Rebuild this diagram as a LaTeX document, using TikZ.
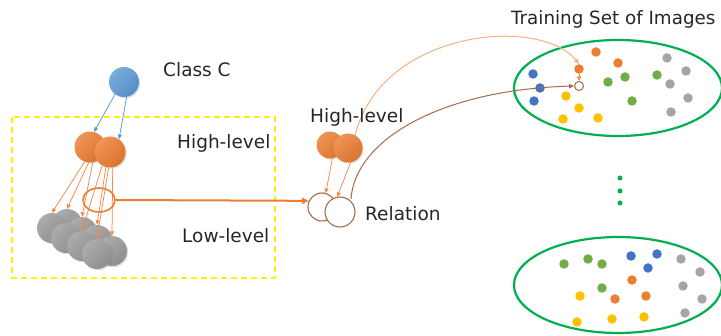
\documentclass[tikz,border=0pt]{standalone}
\usepackage{fontspec}
\setmainfont{DejaVu Sans}
\usetikzlibrary{arrows.meta,shapes.geometric,shadows}

\definecolor{blueC}{HTML}{5B9BD5}
\definecolor{orangeC}{HTML}{ED7D31}
\definecolor{grayC}{HTML}{A5A5A5}
\definecolor{ballGray}{HTML}{9A9A9A}
\definecolor{greenC}{HTML}{00B050}
\definecolor{dotBlue}{HTML}{4472C4}
\definecolor{dotYellow}{HTML}{FFC000}
\definecolor{dotGreen}{HTML}{70AD47}
\definecolor{arrowOrange}{HTML}{F28A48}
\definecolor{lightOrange}{HTML}{F4B183}
\definecolor{brownC}{HTML}{A36B4B}
\definecolor{textC}{HTML}{262626}
\definecolor{dashYellow}{HTML}{FFF200}

\begin{document}
\begin{tikzpicture}[x=1pt,y=-1pt,
  ball/.style={circle, inner sep=0pt, minimum size=#1,
    drop shadow={opacity=0.25, shadow xshift=1.2pt, shadow yshift=-1.2pt}},
  shade/.style={top color=#1!82!white, bottom color=#1!92!black, shading angle=45},
  blueball/.style={ball=30pt, shade=blueC},
  orangeball/.style={ball=#1, shade=orangeC},
  grayball/.style={ball=30pt, shade=ballGray},
  relball/.style={circle, inner sep=0pt, minimum size=#1, draw=brownC, line width=1.1pt, fill=white},
  tdot/.style={circle, inner sep=0pt, minimum size=9.5pt, fill=#1},
  vdot/.style={circle, inner sep=0pt, minimum size=5pt, fill=greenC},
  oarrow/.style={arrowOrange, line width=0.75pt, -{Triangle[length=4.5pt,width=4pt]}},
  barrow/.style={blueC, line width=0.8pt, -{Triangle[length=4.5pt,width=4pt]}},
  label/.style={text=textC, inner sep=0pt, anchor=base west, font=\fontsize{18.5}{20}\selectfont},
  setring/.style={draw=greenC, line width=2.2pt}
]
\useasboundingbox (0,0) rectangle (721,336);

% dashed frame around the hierarchy
\draw[dashYellow, line width=1.6pt, dash pattern=on 6pt off 4pt] (12,117) rectangle (275,278);

% class node and high-level parts
\node[blueball] (cls) at (124,82) {};
\node[label] (lclass) at (163,77) {Class C};

% low-level parts: back row, then front row
\foreach \n/\x/\y in {b1/67/224, b2/82/232, b3/97/240, b4/112/251}
  \node[grayball] (\n) at (\x,\y) {};
\foreach \n/\x/\y in {g1/52/228, g2/66/238, g3/82/246, g4/97/254}
  \node[grayball] (\n) at (\x,\y) {};

\node[orangeball=31pt] (h1) at (90,147) {};
\node[orangeball=31pt] (h2) at (110,152) {};

\draw[barrow] (cls.234) -- (h1.75);
\draw[barrow] (cls.280) -- (h2.55);

\draw[oarrow] (h1.-110) -- (g1.north);
\draw[oarrow] (h1.-95) -- (b1.north);
\draw[oarrow] (h1.-80) -- (b2.north);
\draw[oarrow] (h2.-120) -- (g3.north);
\draw[oarrow] (h2.-105) -- (b3.north);
\draw[oarrow] (h2.-95) -- (g4.north);
\draw[oarrow] (h2.-80) -- (b4.north);

\node[label] (lhigh) at (177,149) {High-level};
\node[label] (llow) at (182,242.5) {Low-level};

% selected relation
\node[ellipse, draw=orangeC, line width=1.6pt, minimum width=32pt, minimum height=24pt, inner sep=0pt] (sel) at (99,200) {};

% training sets
\node[label, font=\fontsize{18.3}{20}\selectfont] (ltitle) at (511,25) {Training Set of Images};
\draw[setring] (618,88) ellipse [x radius=104, y radius=48];
\draw[setring] (618,285) ellipse [x radius=104, y radius=48];

\foreach \n/\x/\y/\c in {
  ta1/533/74/dotBlue, ta2/540/88/dotBlue, ta3/534/101/dotBlue,
  ta4/596/52/orangeC, ta5/618/63/orangeC,
  ta6/566/96/dotYellow, ta7/579/108/dotYellow, ta8/563/119/dotYellow, ta9/598/118/dotYellow,
  ta10/608/82/dotGreen, ta11/625/77/dotGreen, ta12/657/75/dotGreen, ta13/632/101/dotGreen,
  ta14/667/58/grayC, ta15/686/71/grayC, ta16/670/84/grayC, ta17/688/98/grayC, ta18/671/112/grayC}
  \node[tdot=\c] (\n) at (\x,\y) {};
\node[tdot=orangeC] (t1) at (579,69) {};
\node[circle, inner sep=0pt, minimum size=9pt, draw=brownC, line width=1pt, fill=white] (o) at (579,86) {};
\draw[oarrow] (t1.south) -- (o.north);

\foreach \n/\x/\y/\c in {
  tb1/564/264/dotGreen, tb2/588/259/dotGreen, tb3/602/264/dotGreen, tb4/602/288/dotGreen,
  tb5/631/256/dotBlue, tb6/657/254/dotBlue, tb7/648/268/dotBlue,
  tb8/681/259/grayC, tb9/700/272/grayC, tb10/683/286/grayC, tb11/702/299/grayC, tb12/685/313/grayC,
  tb13/632/280/orangeC, tb14/615/299/orangeC, tb15/646/296/orangeC,
  tb16/580/296/dotYellow, tb17/577/322/dotYellow, tb18/612/319/dotYellow, tb19/644/317/dotYellow}
  \node[tdot=\c] (\n) at (\x,\y) {};

\foreach \n/\y in {v1/178, v2/191, v3/203}
  \node[vdot] (\n) at (620,\y) {};

% mid part: high-level pair and relation pair
\coordinate (kpos) at (348,148);
\coordinate (rpos) at (340,212);
\draw[lightOrange, line width=1pt, -{Triangle[length=5pt,width=4.5pt]}]
  ([shift={(7,-12)}]kpos) .. controls (380,30) and (540,15) .. (t1.north);
\draw[brownC, line width=1pt, -{Triangle[length=5pt,width=4.5pt]}]
  ([shift={(11,-13)}]rpos) .. controls (355,140) and (440,90) .. (o.west);

\node[orangeball=27pt] (k1) at (330,145) {};
\node[orangeball=29pt] (k2) at (kpos) {};
\node[relball=28pt] (r1) at (322,207) {};
\node[relball=30pt] (r2) at (rpos) {};

\draw[oarrow] (k1.-80) -- (r1.75);
\draw[oarrow] (k2.-80) -- (r2.100);
\draw[orangeC, line width=2pt, -{Triangle[length=7pt,width=6pt]}] (sel.east) -- (r1.155);

\node[label] (lhigh2) at (310,123) {High-level};
\node[label] (lrel) at (365,221) {Relation};
\end{tikzpicture}
\end{document}
